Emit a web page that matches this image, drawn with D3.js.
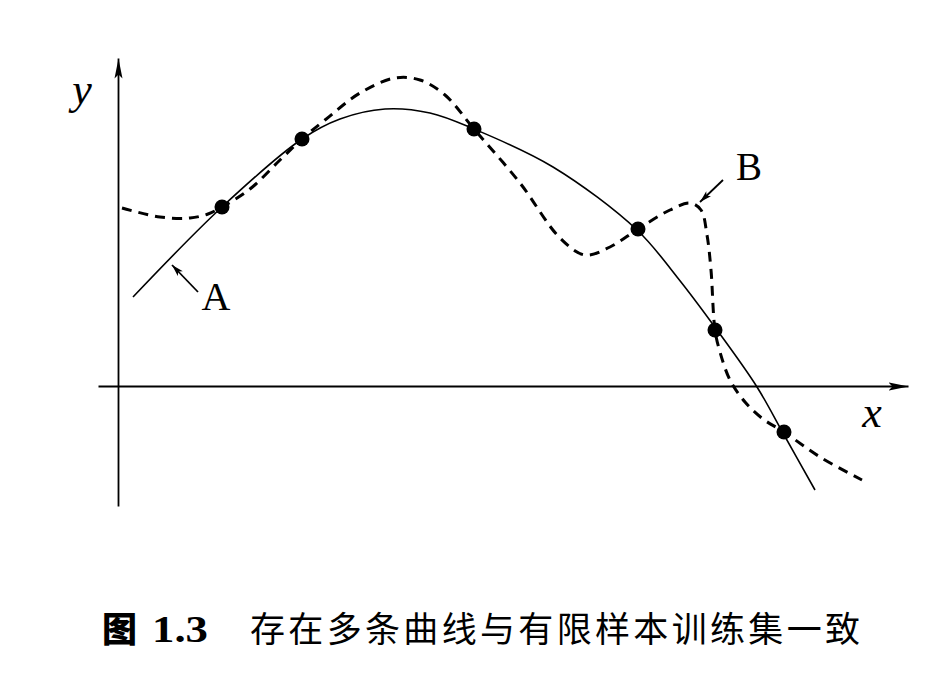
<!DOCTYPE html>
<html><head><meta charset="utf-8">
<script src="https://cdn.jsdelivr.net/npm/d3@7"></script>
<style>html,body{margin:0;padding:0;background:#fff;}</style>
</head><body>
<svg id="c" width="950" height="680"></svg>
<script>
// Sample points (training set)
const sampleX = [10.4, 18.4, 35.6, 52.0, 59.7, 66.6];
const sampleY = [17.9, 24.7, 25.7, 15.7, 5.6, -4.6];
// Curve A (solid, smooth)
const curveAX = [1.5, 10.4, 18.4, 22.2, 26.7, 31.2, 35.6, 43.5, 51.9, 55.9, 59.9, 63.9, 66.5, 69.7];
const curveAY = [8.9, 17.9, 24.7, 26.7, 27.7, 27.3, 25.7, 21.9, 15.6, 10.9, 5.6, -0.1, -4.7, -10.4];
// Curve B (dashed, wiggly)
const curveBX = [0.4, 4.2, 7.2, 9.0, 10.4, 13.2, 16.2, 18.4, 20.7, 24.2, 27.7, 30.2, 32.7, 35.6, 40.2, 44.2, 46.7, 49.2, 52.0, 55.2, 57.2, 58.3, 58.9, 59.3, 59.7, 60.2, 61.2, 62.7, 64.5, 66.6, 70.2, 74.4];
const curveBY = [17.8, 16.9, 16.8, 17.2, 17.9, 19.7, 22.6, 24.7, 26.6, 29.3, 30.8, 30.6, 29.1, 25.7, 20.3, 14.8, 13.1, 13.9, 15.7, 17.6, 18.3, 17.6, 15.1, 11.6, 5.6, 3.4, 0.6, -1.6, -3.3, -4.6, -7.1, -9.4];
const labels = ["A", "B"];
const axisNames = ["x", "y"];
const captionFig = "图";
const captionNum = "1.3";
const captionText = "存在多条曲线与有限样本训练集一致";

const svg = d3.select("#c");
const x = d3.scaleLinear().domain([-2, 79]).range([98, 908]);
const y = d3.scaleLinear().domain([-12, 32.8]).range([506, 58]);

const defs = svg.append("defs");
defs.append("marker").attr("id","axarrow").attr("viewBox","0 0 20 10").attr("refX",20).attr("refY",5)
  .attr("markerWidth",20).attr("markerHeight",10).attr("markerUnits","userSpaceOnUse").attr("orient","auto")
  .append("path").attr("d","M0,1 L20,5 L0,9 L4,5 Z").attr("fill","#000");
defs.append("marker").attr("id","smarrow").attr("viewBox","0 0 12 8").attr("refX",12).attr("refY",4)
  .attr("markerWidth",12).attr("markerHeight",8).attr("markerUnits","userSpaceOnUse").attr("orient","auto")
  .append("path").attr("d","M0,0.5 L12,4 L0,7.5 L3,4 Z").attr("fill","#000");

// axes via d3 axes (no ticks)
const gx = svg.append("g").attr("transform",`translate(0,${y(0)})`)
  .call(d3.axisBottom(x).tickValues([]).tickSizeOuter(0));
gx.select(".domain").attr("stroke","#000").attr("stroke-width",1.8).attr("marker-end","url(#axarrow)");
const gy = svg.append("g").attr("transform",`translate(${x(0)},0)`)
  .call(d3.axisLeft(y).tickValues([]).tickSizeOuter(0));
gy.select(".domain").attr("stroke","#000").attr("stroke-width",1.8).attr("marker-end","url(#axarrow)");

const line = d3.line().x(d=>x(d[0])).y(d=>y(d[1])).curve(d3.curveCatmullRom.alpha(0.5));
const A = d3.zip(curveAX, curveAY);
const B = d3.zip(curveBX, curveBY);
svg.append("path").attr("d", line(A)).attr("fill","none").attr("stroke","#000").attr("stroke-width",1.6);
svg.append("path").attr("d", line(B)).attr("fill","none").attr("stroke","#000").attr("stroke-width",3)
  .attr("stroke-dasharray","10,7");

svg.selectAll("circle.pt").data(d3.zip(sampleX, sampleY)).join("circle").attr("class","pt")
  .attr("cx",d=>x(d[0])).attr("cy",d=>y(d[1])).attr("r",7.5).attr("fill","#000");

// label arrows
svg.append("line").attr("x1",x(8.0)).attr("y1",y(9.4)).attr("x2",x(5.4)).attr("y2",y(12.1))
  .attr("stroke","#000").attr("stroke-width",1.8).attr("marker-end","url(#smarrow)");
svg.append("line").attr("x1",x(60.5)).attr("y1",y(20.6)).attr("x2",x(58.2)).attr("y2",y(18.4))
  .attr("stroke","#000").attr("stroke-width",1.8).attr("marker-end","url(#smarrow)");

const serif = "'Liberation Serif','DejaVu Serif',serif";
svg.append("text").attr("x",216).attr("y",310).attr("text-anchor","middle").attr("font-family",serif).attr("font-size",40).text(labels[0]);
svg.append("text").attr("x",749).attr("y",180).attr("text-anchor","middle").attr("font-family",serif).attr("font-size",39).text(labels[1]);

svg.append("text").attr("x",82).attr("y",104).attr("text-anchor","middle").attr("font-family",serif).attr("font-style","italic").attr("font-size",44).text(axisNames[1]);
svg.append("text").attr("x",872).attr("y",427).attr("text-anchor","middle").attr("font-family",serif).attr("font-style","italic").attr("font-size",44).text(axisNames[0]);

// caption
const cjk = "'Noto Sans CJK SC','Noto Sans CJK JP',sans-serif";
svg.append("text").attr("x",102).attr("y",642).attr("font-family",cjk).attr("font-weight","900").attr("font-size",35).text(captionFig);
svg.append("text").attr("x",152).attr("y",642).attr("font-family",serif).attr("font-weight","bold").attr("font-size",38)
  .attr("textLength",56).attr("lengthAdjust","spacingAndGlyphs").text(captionNum);
svg.append("text").attr("x",250).attr("y",642).attr("font-family",cjk).attr("font-size",35)
  .attr("textLength",610).attr("lengthAdjust","spacing").text(captionText);
</script>
</body></html>
